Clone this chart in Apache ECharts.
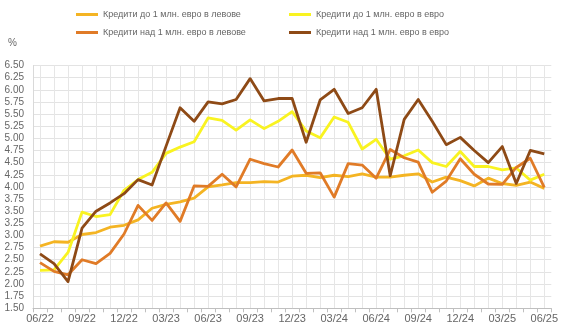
<!DOCTYPE html>
<html>
<head>
<meta charset="utf-8">
<script src="https://cdn.jsdelivr.net/npm/echarts@6/dist/echarts.min.js"></script>
<style>
  html, body { margin: 0; padding: 0; background: #ffffff; }
  #chart { width: 561px; height: 332px; }
</style>
</head>
<body>
<div id="chart"></div>
<script>
// Monthly categories, June 2022 – June 2025
const months = [
  '06/22', '07/22', '08/22', '09/22', '10/22', '11/22', '12/22',
  '01/23', '02/23', '03/23', '04/23', '05/23', '06/23', '07/23', '08/23', '09/23', '10/23', '11/23', '12/23',
  '01/24', '02/24', '03/24', '04/24', '05/24', '06/24', '07/24', '08/24', '09/24', '10/24', '11/24', '12/24',
  '01/25', '02/25', '03/25', '04/25', '05/25', '06/25'
];

const seriesNames = [
  'Кредити до 1 млн. евро в левове',
  'Кредити до 1 млн. евро в евро',
  'Кредити над 1 млн. евро в левове',
  'Кредити над 1 млн. евро в евро'
];

// Interest rates, %
const smallBgn = [
  2.78, 2.87, 2.86, 3.02, 3.06, 3.17, 3.21, 3.32, 3.56, 3.64, 3.69, 3.77, 4.00,
  4.04, 4.09, 4.09, 4.11, 4.10, 4.22, 4.24, 4.19, 4.24, 4.21, 4.27, 4.20, 4.20,
  4.24, 4.27, 4.10, 4.20, 4.13, 4.02, 4.18, 4.07, 4.03, 4.10, 3.97
];
const smallEur = [
  2.28, 2.29, 2.65, 3.48, 3.39, 3.43, 3.93, 4.15, 4.30, 4.69, 4.82, 4.93, 5.42,
  5.37, 5.17, 5.38, 5.20, 5.35, 5.55, 5.15, 5.01, 5.44, 5.33, 4.78, 4.98, 4.57,
  4.64, 4.76, 4.50, 4.42, 4.73, 4.42, 4.42, 4.35, 4.39, 4.14, 4.26
];
const largeBgn = [
  2.44, 2.26, 2.19, 2.50, 2.42, 2.63, 3.03, 3.62, 3.31, 3.67, 3.29, 4.02, 4.01,
  4.26, 4.00, 4.57, 4.48, 4.41, 4.76, 4.28, 4.29, 3.79, 4.48, 4.45, 4.18, 4.77,
  4.60, 4.51, 3.89, 4.12, 4.58, 4.26, 4.06, 4.05, 4.40, 4.59, 3.99
];
const largeEur = [
  2.62, 2.42, 2.05, 3.15, 3.50, 3.67, 3.86, 4.15, 4.04, 4.84, 5.63, 5.35, 5.75,
  5.71, 5.80, 6.23, 5.77, 5.82, 5.82, 4.92, 5.79, 6.01, 5.51, 5.63, 6.01, 4.23,
  5.39, 5.80, 5.35, 4.87, 5.02, 4.75, 4.50, 4.83, 4.07, 4.75, 4.68
];

const colors = ['#f4b423', '#f9f321', '#e07b27', '#8e4a16'];
const values = [smallBgn, smallEur, largeBgn, largeEur];

const chart = echarts.init(document.getElementById('chart'), null, { renderer: 'canvas' });

const legendBase = {
  icon: 'rect',
  itemWidth: 22,
  itemHeight: 3,
  selectedMode: false,
  padding: 0,
  textStyle: { fontFamily: 'Liberation Sans, Arial, sans-serif', fontSize: 9, color: '#666666' }
};
const legendPos = [[76, 10], [289, 10], [76, 28], [289, 28]];

const option = {
  backgroundColor: '#ffffff',
  animation: false,
  color: colors,
  legend: seriesNames.map((n, i) => Object.assign({}, legendBase, {
    data: [n], left: legendPos[i][0], top: legendPos[i][1]
  })),
  graphic: [{
    type: 'text', left: 8, top: 38,
    style: { text: '%', fontFamily: 'Liberation Sans, Arial, sans-serif', fontSize: 10, fill: '#666666' }
  }],
  grid: { left: 33, right: 6.4, top: 65.5, bottom: 23.7, containLabel: false },
  xAxis: {
    type: 'category',
    data: months,
    boundaryGap: true,
    axisLine: { show: true, lineStyle: { color: '#bfbfbf', width: 1 } },
    axisTick: { show: true, interval: 0, length: 4, lineStyle: { color: '#bfbfbf' } },
    axisLabel: {
      interval: 2, margin: 5, color: '#666666', fontSize: 11,
      fontFamily: 'Liberation Sans, Arial, sans-serif'
    },
    splitLine: { show: true, interval: 0, alignWithLabel: true, lineStyle: { color: '#e6e6e6', width: 1 } }
  },
  yAxis: {
    type: 'value',
    min: 1.5, max: 6.5, interval: 0.25,
    axisLine: { show: true, lineStyle: { color: '#d9d9d9' } },
    axisTick: { show: false },
    axisLabel: {
      margin: 9, color: '#666666', fontSize: 10,
      fontFamily: 'Liberation Sans, Arial, sans-serif',
      formatter: v => v.toFixed(2)
    },
    splitLine: { show: true, lineStyle: { color: '#e3e3e3', width: 1 } }
  },
  series: seriesNames.map((n, i) => ({
    name: n,
    type: 'line',
    data: values[i],
    symbol: 'none',
    smooth: false,
    lineStyle: { width: 2.8, color: colors[i], join: 'round' },
    itemStyle: { color: colors[i] }
  }))
};

chart.setOption(option);
</script>
</body>
</html>
